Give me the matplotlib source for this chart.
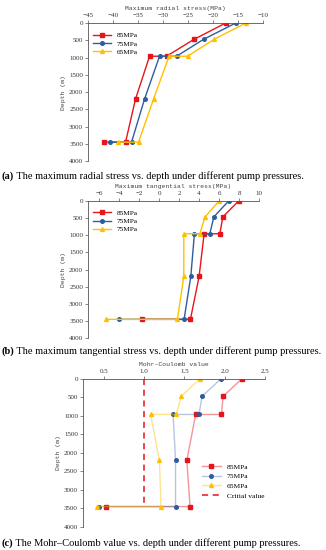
import matplotlib.pyplot as plt
from matplotlib.colors import to_rgba

# depths shared by all series (m)
depth = [0, 470, 960, 960, 2200, 3450, 3450]

# (a) maximum radial stress (MPa)
radial_85 = [-17.5, -23.8, -29.3, -32.7, -35.5, -37.5, -41.8]
radial_75 = [-15.5, -21.9, -27.3, -30.7, -33.7, -36.3, -40.7]
radial_65 = [-13.5, -19.8, -25.1, -28.8, -31.9, -34.9, -39.0]

# (b) maximum tangential stress (MPa)
tang_85 = [7.97, 6.37, 6.07, 4.5, 4.0, 3.13, -1.67]
tang_75 = [6.97, 5.47, 5.07, 3.53, 3.17, 2.5, -4.0]
tang_65 = [6.0, 4.6, 4.07, 2.47, 2.47, 1.83, -5.33]

# (c) Mohr-Coulomb value
mc_85 = [2.21, 1.98, 1.96, 1.64, 1.53, 1.57, 0.525]
mc_75 = [1.95, 1.72, 1.68, 1.36, 1.39, 1.39, 0.44]
mc_65 = [1.69, 1.46, 1.40, 1.08, 1.19, 1.21, 0.41]
critical_x = [1.0, 1.0]
critical_depth = [0, 3450]

RED = '#e8141b'
BLUE = '#2e5d9f'
YELLOW = '#ffc000'
MONO = 'Liberation Mono'
SERIF = 'Liberation Serif'


def style_axis(ax, xlabel, xlim, xticks):
    ax.set_xlim(*xlim)
    ax.set_xticks(xticks)
    ax.set_ylim(4000, 0)
    ax.set_yticks(range(0, 4001, 500))
    ax.xaxis.tick_top()
    ax.xaxis.set_label_position('top')
    ax.set_xlabel(xlabel, fontsize=4.6, family=MONO, color='#444444', labelpad=2)
    ax.set_ylabel('Depth (m)', fontsize=4.6, family=MONO, color='#444444', labelpad=2)
    for s in ['right', 'bottom']:
        ax.spines[s].set_visible(False)
    for s in ['left', 'top']:
        ax.spines[s].set_color('#555555')
        ax.spines[s].set_linewidth(0.6)
    ax.tick_params(labelsize=5, length=2, width=0.5, color='#555555',
                   labelcolor='#333333', pad=1.5)
    for lab in ax.get_xticklabels() + ax.get_yticklabels():
        lab.set_family(SERIF)


def caption(fig, y, tag, text, size=7.45):
    # bold tag followed by plain text
    t = fig.text(0.005, y, tag, family=SERIF, fontsize=size,
                 fontweight='bold', va='baseline')
    fig.axes[0].annotate(' ' + text, xy=(1, 0), xycoords=t, va='bottom',
                         family=SERIF, fontsize=size, annotation_clip=False)


fig = plt.figure(figsize=(3.26, 5.5), dpi=100)

# (a)
ax1 = fig.add_axes([0.270, 0.707, 0.537, 0.251])
ax1.plot(radial_85, depth, color=RED, marker='s', ms=2.6, lw=1.0, label='85MPa')
ax1.plot(radial_75, depth, color=BLUE, marker='o', ms=2.6, lw=1.0, label='75MPa')
ax1.plot(radial_65, depth, color=YELLOW, marker='^', ms=2.8, lw=1.0, label='65MPa')
style_axis(ax1, 'Maximum radial stress(MPa)', (-45, -10), range(-45, -9, 5))
ax1.legend(loc='upper left', bbox_to_anchor=(0.0, 0.97), frameon=False,
           prop={'family': SERIF, 'size': 5.2}, handlelength=2.5,
           labelspacing=0.3, borderaxespad=0.3)

# (b)
ax2 = fig.add_axes([0.270, 0.385, 0.525, 0.250])
ax2.plot(tang_85, depth, color=RED, marker='s', ms=2.6, lw=1.0, label='85MPa')
ax2.plot(tang_75, depth, color=BLUE, marker='o', ms=2.6, lw=1.0, label='75MPa')
ax2.plot(tang_65, depth, color=YELLOW, marker='^', ms=2.8, lw=1.0, label='75MPa')
style_axis(ax2, 'Maximum tangential stress(MPa)', (-7.1, 10), range(-6, 11, 2))
ax2.legend(loc='upper left', bbox_to_anchor=(0.0, 0.97), frameon=False,
           prop={'family': SERIF, 'size': 5.2}, handlelength=2.5,
           labelspacing=0.3, borderaxespad=0.3)

# (c)
ax3 = fig.add_axes([0.254, 0.042, 0.559, 0.269])
ax3.plot(mc_85, depth, color=to_rgba(RED, 0.45), marker='s', ms=2.6, lw=1.0,
         mfc=RED, mec=RED, label='85MPa')
ax3.plot(mc_75, depth, color=to_rgba(BLUE, 0.35), marker='o', ms=2.6, lw=1.0,
         mfc=BLUE, mec=BLUE, label='75MPa')
ax3.plot(mc_65, depth, color=to_rgba(YELLOW, 0.45), marker='^', ms=2.8, lw=1.0,
         mfc=YELLOW, mec=YELLOW, label='65MPa')
ax3.plot(critical_x, critical_depth, color=RED, ls=(0, (4, 3)), lw=1.1,
         label='Critial value')
style_axis(ax3, 'Mohr\u2013Coulomb value', (0.24, 2.5), [0.5, 1.0, 1.5, 2.0, 2.5])
ax3.set_xticklabels(['0.5', '1.0', '1.5', '2.0', '2.5'], family=SERIF)
ax3.legend(loc='lower right', bbox_to_anchor=(1.02, 0.16), frameon=False,
           prop={'family': SERIF, 'size': 5.4}, handlelength=2.5,
           labelspacing=0.45, borderaxespad=0.2)

# captions
caption(fig, 0.675, '(a)', 'The maximum radial stress vs. depth under different pump pressures.')
caption(fig, 0.357, '(b)', 'The maximum tangential stress vs. depth under different pump pressures.')
caption(fig, 0.008, '(c)', 'The Mohr\u2013Coulomb value vs. depth under different pump pressures.')

fig.savefig('out.png', dpi=100)
